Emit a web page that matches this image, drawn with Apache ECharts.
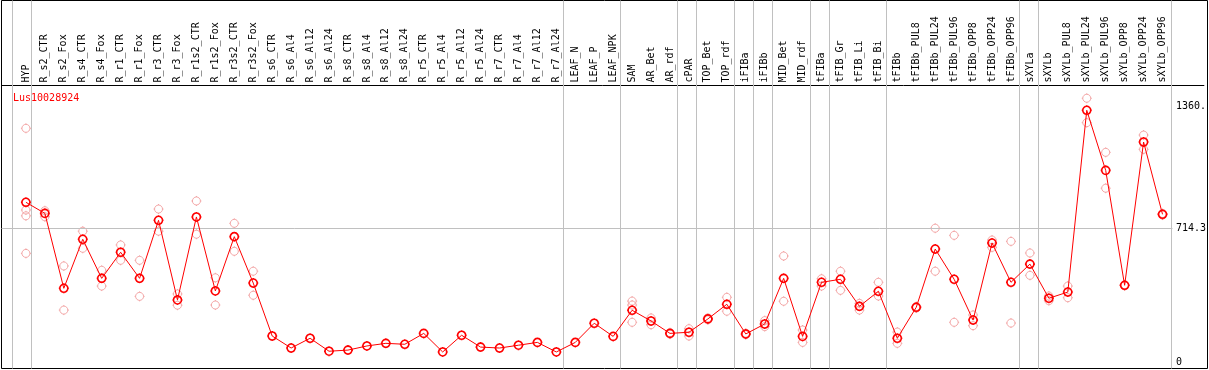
<!DOCTYPE html>
<html>
<head>
<meta charset="utf-8">
<script src="https://cdn.jsdelivr.net/npm/echarts@6/dist/echarts.min.js"></script>
<style>
  html, body { margin: 0; padding: 0; background: #fff; }
  #chart { width: 1209px; height: 370px; }
</style>
</head>
<body>
<div id="chart"></div>
<script>
const title = "Lus10028924";

const categories = [
  "HYP", "R_s2_CTR", "R_s2_Fox", "R_s4_CTR", "R_s4_Fox", "R_r1_CTR", "R_r1_Fox", "R_r3_CTR", "R_r3_Fox",
  "R_r1s2_CTR", "R_r1s2_Fox", "R_r3s2_CTR", "R_r3s2_Fox", "R_s6_CTR", "R_s6_Al4", "R_s6_Al12", "R_s6_Al24",
  "R_s8_CTR", "R_s8_Al4", "R_s8_Al12", "R_s8_Al24", "R_r5_CTR", "R_r5_Al4", "R_r5_Al12", "R_r5_Al24",
  "R_r7_CTR", "R_r7_Al4", "R_r7_Al12", "R_r7_Al24", "LEAF_N", "LEAF_P", "LEAF_NPK", "SAM", "AR_Bet", "AR_rdf",
  "cPAR", "TOP_Bet", "TOP_rdf", "iFIBa", "iFIBb", "MID_Bet", "MID_rdf", "tFIBa", "tFIB_Gr", "tFIB_Li", "tFIB_Bi",
  "tFIBb", "tFIBb_PUL8", "tFIBb_PUL24", "tFIBb_PUL96", "tFIBb_OPP8", "tFIBb_OPP24", "tFIBb_OPP96",
  "sXYLa", "sXYLb", "sXYLb_PUL8", "sXYLb_PUL24", "sXYLb_PUL96", "sXYLb_OPP8", "sXYLb_OPP24", "sXYLb_OPP96"
];

// mean expression per sample (red line)
const means = [
  852, 793, 394, 655, 447, 586, 447, 756, 332, 774,
  380, 669, 422, 140, 76, 128, 59, 65, 87, 101,
  96, 154, 55, 144, 81, 76, 91, 106, 55, 106,
  208, 138, 277, 220, 154, 160, 231, 309, 151, 204,
  447, 138, 426, 442, 298, 378, 128, 293, 603, 442,
  225, 635, 426, 523, 341, 374, 1342, 1022, 410, 1173, 788
];

// individual replicates (pink circles), same order as categories
const replicates = [
  [1246, 811, 780, 580], [807, 775], [513, 278], [698, 607], [490, 406], [625, 543], [543, 351],
  [816, 698], [364, 304], [859, 682], [450, 305], [740, 591], [485, 357],
  [], [], [], [], [], [], [], [], [], [], [], [], [], [], [], [], [], [], [],
  [326, 305, 213], [236, 200], [158, 150], [179, 140], [236, 226], [346, 272], [155, 147], [222, 190],
  [566, 325], [172, 106], [445, 406], [485, 383], [314, 278], [426, 353], [161, 101], [297, 289],
  [714, 485], [676, 213], [252, 195], [651, 612], [644, 209], [582, 463], [353, 328], [406, 344],
  [1406, 1276], [1118, 927], [412, 408], [1210, 1134], [792, 784]
];

// sample groups end after these indices (grey separators)
const groupEnds = [-1, 0, 28, 31, 34, 35, 37, 38, 39, 41, 42, 45, 52, 53, 60];

const yTickValues = [0, 714.3, 1360];
const yTickLabels = ["0", "714.3", "1360."];
const gridLineValue = 714.3;

const font = "DejaVu Sans Mono";
const xMin = -1.2895, xMax = 62.184, xPlotEnd = 60.526;

// circle with four little ticks
const ringSymbol = "path://M10 2C14.418 2 18 5.582 18 10C18 14.418 14.418 18 10 18C5.582 18 2 14.418 2 10C2 5.582 5.582 2 10 2Z" +
  "M10 0L10 2M10 18L10 20M0 10L2 10M18 10L20 10";

const replicateData = [];
replicates.forEach((vals, i) => vals.forEach(v => replicateData.push([i, v])));

const chart = echarts.init(document.getElementById("chart"), null, { renderer: "canvas" });

chart.setOption({
  animation: false,
  backgroundColor: "#fff",
  title: {
    text: title,
    left: 8,
    top: 88,
    textStyle: { fontFamily: font, fontSize: 10, fontWeight: "normal", color: "#ff0000" }
  },
  grid: [
    // outer frame incl. header
    { left: 1.5, right: 1.5, top: 0.5, bottom: 1.5, show: true, borderColor: "#000", borderWidth: 1 },
    // plot area
    { left: 1.5, right: 1.5, top: 85.5, bottom: 1.5 }
  ],
  xAxis: [
    { gridIndex: 0, type: "value", min: xMin, max: xMax, show: false },
    {
      gridIndex: 1,
      type: "value",
      position: "top",
      min: xMin,
      max: xMax,
      axisLine: { show: true, onZero: false, lineStyle: { color: "#000", width: 1 } },
      axisTick: { show: false },
      splitLine: { show: false },
      axisLabel: {
        customValues: categories.map((c, i) => i),
        formatter: v => categories[Math.round(v)] || "",
        rotate: -90,
        margin: 3,
        padding: [0, 0, 6, 0],
        fontFamily: font,
        fontSize: 10,
        color: "#000"
      }
    }
  ],
  yAxis: [
    { gridIndex: 0, type: "value", min: 0, max: 1, show: false },
    {
      gridIndex: 1,
      type: "value",
      position: "right",
      min: -33,
      max: 1473.9,
      axisLine: { show: false },
      axisTick: { show: false },
      splitLine: { show: false },
      axisLabel: {
        customValues: yTickValues,
        formatter: v => yTickLabels[yTickValues.indexOf(v)],
        inside: true,
        align: "left",
        margin: 28,
        fontFamily: font,
        fontSize: 10,
        color: "#000"
      }
    }
  ],
  series: [
    {
      // group separators across header and plot
      type: "scatter",
      xAxisIndex: 0,
      yAxisIndex: 0,
      data: [[xMin, 0]],
      symbolSize: 0,
      silent: true,
      z: 1,
      markLine: {
        silent: true,
        symbol: "none",
        label: { show: false },
        lineStyle: { color: "#c0c0c0", width: 1, type: "solid" },
        data: groupEnds.map(i => ({ xAxis: i + 0.25 }))
      }
    },
    {
      type: "scatter",
      xAxisIndex: 1,
      yAxisIndex: 1,
      data: replicateData,
      symbol: ringSymbol,
      symbolSize: 10,
      itemStyle: { color: "rgba(0,0,0,0)", borderColor: "#f09494", borderWidth: 1 },
      z: 3,
      silent: true,
      markLine: {
        silent: true,
        symbol: "none",
        label: { show: false },
        lineStyle: { color: "#c0c0c0", width: 1, type: "solid" },
        data: [[{ coord: [xMin, gridLineValue] }, { coord: [xPlotEnd, gridLineValue] }]]
      }
    },
    {
      type: "line",
      xAxisIndex: 1,
      yAxisIndex: 1,
      data: means.map((v, i) => [i, v]),
      symbol: ringSymbol,
      symbolSize: 10,
      showAllSymbol: true,
      lineStyle: { color: "#ff0000", width: 1 },
      itemStyle: { color: "rgba(0,0,0,0)", borderColor: "#ff0000", borderWidth: 1.6 },
      z: 5,
      silent: true
    }
  ]
});
</script>
</body>
</html>
